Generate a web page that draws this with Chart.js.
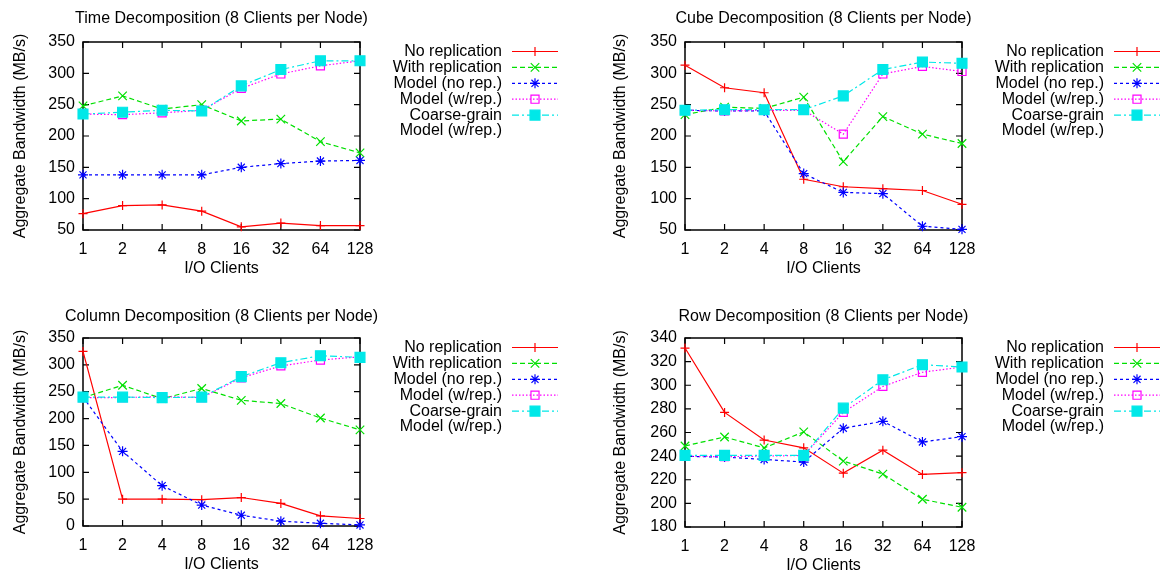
<!DOCTYPE html>
<html>
<head>
<meta charset="utf-8">
<script src="https://cdn.jsdelivr.net/npm/chart.js@4.4.1/dist/chart.umd.min.js"></script>
<style>
  html, body { margin: 0; padding: 0; background: #fff; }
  #wrap { position: relative; width: 1162px; height: 574px; overflow: hidden; background: #fff; }
  canvas { position: absolute; }
</style>
</head>
<body>
<div id="wrap">
  <canvas id="timeChart" width="581" height="287" style="left:0;top:0"></canvas>
  <canvas id="cubeChart" width="581" height="287" style="left:581px;top:0"></canvas>
  <canvas id="columnChart" width="581" height="287" style="left:0;top:287px"></canvas>
  <canvas id="rowChart" width="581" height="287" style="left:581px;top:287px"></canvas>
</div>
<script>
// ---- data ----
const clientCounts = ['1', '2', '4', '8', '16', '32', '64', '128'];
const seriesNames = ['No replication', 'With replication', 'Model (no rep.)', 'Model (w/rep.)', ['Coarse-grain', 'Model (w/rep.)']];

// Time decomposition (MB/s)
const timeNoRep      = [76, 89, 90, 80, 55, 61, 57, 57];
const timeWithRep    = [248, 264, 243, 250, 224, 227, 191, 173];
const timeModelNoRep = [138, 138, 138, 138, 150, 156, 160, 161];
const timeModelRep   = [235, 234, 237, 241, 276, 299, 312, 320];
const timeCoarse     = [235, 238, 241, 240, 280, 306, 320, 320];
const timeTicks      = [50, 100, 150, 200, 250, 300, 350];

// Cube decomposition (MB/s)
const cubeNoRep      = [313, 277, 269, 131, 119, 116, 113, 91];
const cubeWithRep    = [234, 246, 244, 262, 159, 231, 203, 188];
const cubeModelNoRep = [241, 240, 240, 140, 110, 108, 56, 51];
const cubeModelRep   = [241, 240, 241, 241, 203, 299, 311, 303];
const cubeCoarse     = [241, 242, 242, 242, 264, 306, 318, 316];
const cubeTicks      = [50, 100, 150, 200, 250, 300, 350];

// Column decomposition (MB/s)
const columnNoRep      = [325, 50, 50, 49, 53, 42, 19, 14];
const columnWithRep    = [239, 262, 237, 256, 234, 228, 201, 179];
const columnModelNoRep = [240, 139, 75, 39, 20, 9, 5, 2];
const columnModelRep   = [239, 239, 241, 239, 276, 298, 309, 315];
const columnCoarse     = [240, 240, 239, 240, 278, 304, 317, 314];
const columnTicks      = [0, 50, 100, 150, 200, 250, 300, 350];

// Row decomposition (MB/s)
const rowNoRep      = [331.5, 277, 253.6, 247, 225.6, 245, 224.5, 226];
const rowWithRep    = [248.6, 256.2, 247, 260.5, 235.8, 224.8, 203.5, 196.7];
const rowModelNoRep = [239.8, 239.2, 237.2, 235, 263.6, 269.5, 252, 256.5];
const rowModelRep   = [240, 239.5, 240, 240.6, 277, 299, 311, 315.4];
const rowCoarse     = [240.6, 240.6, 240.6, 240.6, 280.6, 304.6, 317.4, 315.4];
const rowTicks      = [180, 200, 220, 240, 260, 280, 300, 320, 340];

// ---- styling ----
const FONT_FAMILY = "'Liberation Sans', Arial, Helvetica, sans-serif";
const FS = 16;
const LH = FS * 1.2;
const TICK_LEN = 6;
const CW = 581, CH = 287;

Chart.defaults.font.family = FONT_FAMILY;
Chart.defaults.color = '#000';

const seriesStyles = [
  { color: '#ff0000', dash: [], point: 'cross', radius: 4.5, fill: 'rgba(0,0,0,0)' },
  { color: '#00e000', dash: [5, 3], point: 'crossRot', radius: 6, fill: 'rgba(0,0,0,0)' },
  { color: '#0000ff', dash: [3, 3], point: 'star', radius: 5, fill: 'rgba(0,0,0,0)' },
  { color: '#ff00ff', dash: [1.5, 2], point: 'rect', radius: 5.7, fill: 'rgba(0,0,0,0)' },
  { color: '#00e8e8', dash: [7, 3, 2, 3], point: 'rect', radius: 7, fill: '#00e8e8' }
];

// plot frame with inward, mirrored tick marks, plus the panel heading
const framePlugin = {
  id: 'frame',
  beforeDatasetsDraw(chart, args, opts) {
    const { ctx, chartArea: { left, right, top, bottom }, scales: { x, y } } = chart;
    ctx.save();
    ctx.setLineDash([]);
    ctx.strokeStyle = '#000';
    ctx.lineWidth = 1.5;
    ctx.strokeRect(left, top, right - left, bottom - top);
    ctx.lineWidth = 1.2;
    ctx.beginPath();
    x.ticks.forEach((t, i) => {
      const px = x.getPixelForTick(i);
      ctx.moveTo(px, bottom); ctx.lineTo(px, bottom - TICK_LEN);
      ctx.moveTo(px, top); ctx.lineTo(px, top + TICK_LEN);
    });
    y.ticks.forEach((t, i) => {
      const py = y.getPixelForTick(i);
      ctx.moveTo(left, py); ctx.lineTo(left + TICK_LEN, py);
      ctx.moveTo(right, py); ctx.lineTo(right - TICK_LEN, py);
    });
    ctx.stroke();
    // heading centred over the plot
    ctx.font = `${FS}px ${FONT_FAMILY}`;
    ctx.fillStyle = '#000';
    ctx.textAlign = 'center';
    ctx.textBaseline = 'middle';
    ctx.fillText(opts.text, (left + right) / 2, opts.y);
    ctx.restore();
  }
};

// key to the right of the plot: right-aligned text, then line sample with marker
const keyPlugin = {
  id: 'seriesKey',
  afterDraw(chart) {
    const { ctx, chartArea } = chart;
    const textRight = chartArea.right + 142;
    const x0 = chartArea.right + 152, x1 = chartArea.right + 198;
    const rowH = 15.9;
    let y = chartArea.top + 9.5;
    ctx.save();
    ctx.font = `${FS}px ${FONT_FAMILY}`;
    ctx.textAlign = 'right';
    ctx.textBaseline = 'middle';
    chart.data.datasets.forEach(ds => {
      const lines = Array.isArray(ds.label) ? ds.label : [ds.label];
      ctx.fillStyle = '#000';
      lines.forEach((t, k) => ctx.fillText(t, textRight, y + k * rowH));
      ctx.strokeStyle = ds.borderColor;
      ctx.lineWidth = ds.borderWidth;
      ctx.setLineDash(ds.borderDash || []);
      ctx.beginPath();
      ctx.moveTo(x0, y); ctx.lineTo(x1, y);
      ctx.stroke();
      ctx.setLineDash([]);
      ctx.fillStyle = ds.pointBackgroundColor;
      ctx.strokeStyle = ds.pointBorderColor;
      ctx.lineWidth = ds.pointBorderWidth;
      Chart.helpers.drawPoint(ctx, {
        pointStyle: ds.pointStyle, radius: ds.pointRadius,
        borderWidth: ds.pointBorderWidth, rotation: 0
      }, (x0 + x1) / 2, y);
      y += rowH * lines.length;
    });
    ctx.restore();
  }
};

const panels = [
  { id: 'timeChart', title: 'Time Decomposition (8 Clients per Node)',
    series: [timeNoRep, timeWithRep, timeModelNoRep, timeModelRep, timeCoarse], ticks: timeTicks,
    origin: [0, 0], area: { l: 83, r: 360, t: 42, b: 230 }, titleY: 19, yTitleX: 21 },
  { id: 'cubeChart', title: 'Cube Decomposition (8 Clients per Node)',
    series: [cubeNoRep, cubeWithRep, cubeModelNoRep, cubeModelRep, cubeCoarse], ticks: cubeTicks,
    origin: [581, 0], area: { l: 685, r: 962, t: 42, b: 230 }, titleY: 19, yTitleX: 621 },
  { id: 'columnChart', title: 'Column Decomposition (8 Clients per Node)',
    series: [columnNoRep, columnWithRep, columnModelNoRep, columnModelRep, columnCoarse], ticks: columnTicks,
    origin: [0, 287], area: { l: 83, r: 360, t: 338, b: 526 }, titleY: 317, yTitleX: 21 },
  { id: 'rowChart', title: 'Row Decomposition (8 Clients per Node)',
    series: [rowNoRep, rowWithRep, rowModelNoRep, rowModelRep, rowCoarse], ticks: rowTicks,
    origin: [581, 287], area: { l: 685, r: 962, t: 338, b: 527 }, titleY: 317, yTitleX: 621 }
];

panels.forEach(p => {
  const [ox, oy] = p.origin;
  const L = p.area.l - ox, R = p.area.r - ox, T = p.area.t - oy, B = p.area.b - oy;
  const font = { family: FONT_FAMILY, size: FS, weight: 'normal' };
  const step = p.ticks[1] - p.ticks[0];

  new Chart(document.getElementById(p.id), {
    type: 'line',
    data: {
      labels: clientCounts,
      datasets: seriesNames.map((name, i) => {
        const s = seriesStyles[i];
        return {
          label: name,
          data: p.series[i],
          borderColor: s.color,
          backgroundColor: s.fill,
          borderWidth: 1.2,
          borderDash: s.dash,
          pointStyle: s.point,
          pointRadius: s.radius,
          pointHoverRadius: s.radius,
          pointBorderColor: s.color,
          pointBackgroundColor: s.fill,
          pointBorderWidth: 1.2,
          tension: 0,
          fill: false,
          clip: false,
          order: seriesNames.length - i
        };
      })
    },
    options: {
      responsive: false,
      animation: false,
      devicePixelRatio: 1,
      events: [],
      layout: { padding: { left: 0, top: T, right: CW - R, bottom: 0 } },
      plugins: {
        legend: { display: false },
        tooltip: { enabled: false },
        title: { display: false },
        frame: { text: p.title, y: p.titleY - oy }
      },
      scales: {
        x: {
          type: 'category', offset: false,
          grid: { display: false, drawTicks: false },
          border: { display: false },
          ticks: { color: '#000', font, padding: 20 - LH / 2, autoSkip: false, maxRotation: 0 },
          title: { display: true, text: 'I/O Clients', color: '#000', font,
                   padding: { top: 0, bottom: CH - (B + 39) - LH / 2 } },
          afterFit(s) { s.height = CH - B; s.paddingLeft = 0; s.paddingRight = 0; }
        },
        y: {
          min: p.ticks[0], max: p.ticks[p.ticks.length - 1],
          grid: { display: false, drawTicks: false },
          border: { display: false },
          ticks: { color: '#000', font, padding: 8, stepSize: step },
          title: { display: true, text: 'Aggregate Bandwidth (MB/s)', color: '#000', font,
                   padding: { top: (p.yTitleX - ox) - LH / 2, bottom: 0 } },
          afterFit(s) { s.width = L; s.paddingTop = 0; s.paddingBottom = 0; }
        }
      }
    },
    plugins: [framePlugin, keyPlugin]
  });
});
</script>
</body>
</html>
